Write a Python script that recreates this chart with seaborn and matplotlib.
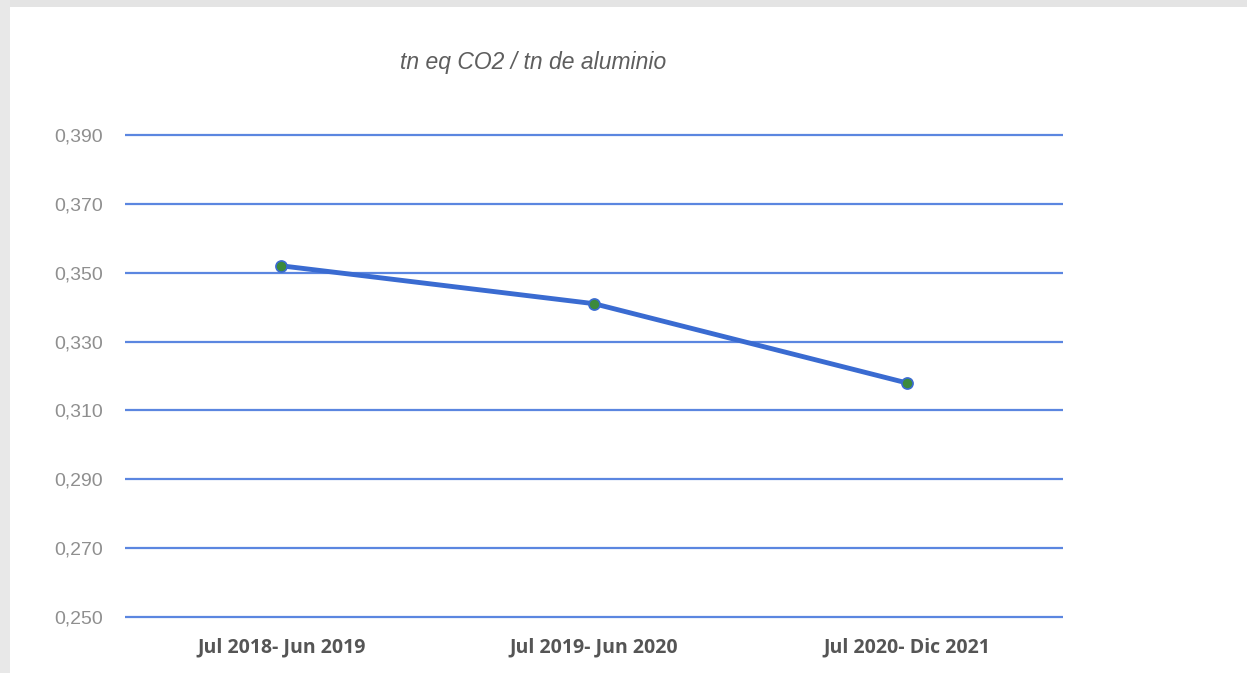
import matplotlib
matplotlib.use("Agg")
import matplotlib.pyplot as plt
from matplotlib.patches import Rectangle
import pandas as pd
import seaborn as sns

periods = ["Jul 2018- Jun 2019", "Jul 2019- Jun 2020", "Jul 2020- Dic 2021"]
intensity = [0.352, 0.341, 0.318]
y_ticks = [0.250, 0.270, 0.290, 0.310, 0.330, 0.350, 0.370, 0.390]

df = pd.DataFrame({"periodo": periods, "valor": intensity})

sns.set_theme(style="white")
plt.rcParams["font.family"] = ["Liberation Sans", "DejaVu Sans"]

W, H = 1247, 673
fig = plt.figure(figsize=(W / 100, H / 100), dpi=100)
fig.patch.set_facecolor("white")

# light grey frame from the screenshot
fig.add_artist(Rectangle((0, 1 - 7 / H), 1, 7 / H, transform=fig.transFigure,
                         facecolor="#e4e4e4", edgecolor="none"))
fig.add_artist(Rectangle((0, 0), 10 / W, 1, transform=fig.transFigure,
                         facecolor="#e8e8e8", edgecolor="none"))

top_px, bot_px = 129.8, 622.2
ax = fig.add_axes([125 / W, 1 - bot_px / H, (1063 - 125) / W, (bot_px - top_px) / H])

sns.lineplot(data=df, x="periodo", y="valor", ax=ax, color="#3a6bd1",
             linewidth=3.5, marker="o", markersize=8,
             markerfacecolor="#3c8a3c", markeredgecolor="#3a6bd1",
             markeredgewidth=1.2, zorder=3)

ax.set_xlim(-0.5, 2.5)
ax.set_ylim(0.2485, 0.3915)
ax.set_yticks(y_ticks)
ax.set_yticklabels([f"{v:.3f}".replace(".", ",") for v in y_ticks])
ax.grid(axis="y", color="#5b86e0", linewidth=1.6)
ax.grid(axis="x", visible=False)
for s in ax.spines.values():
    s.set_visible(False)

ax.tick_params(axis="y", length=0, pad=16, labelsize=14, labelcolor="#8f8f8f")
ax.tick_params(axis="x", length=0, pad=11, labelsize=14, labelcolor="#555555")
for lbl in ax.get_xticklabels():
    lbl.set_fontweight("bold")
    lbl.set_family(["Open Sans", "DejaVu Sans"])
ax.set_xlabel("")
ax.set_ylabel("")

fig.text(533 / W, 1 - 62 / H, "tn eq CO2 / tn de aluminio", ha="center",
         va="center", fontsize=16.5, style="italic", color="#5e5e5e")

fig.savefig("out.png", dpi=100, facecolor="white")
